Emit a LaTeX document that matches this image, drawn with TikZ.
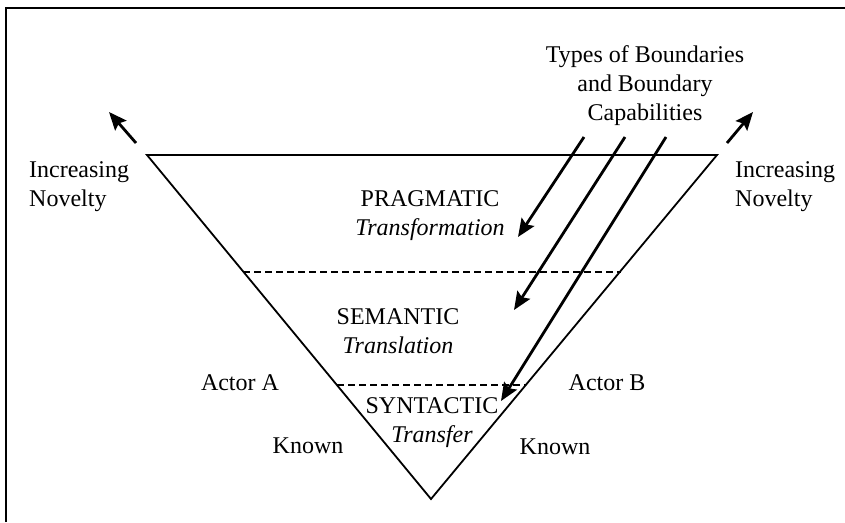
\documentclass[tikz,border=0pt]{standalone}
\usepackage{fontspec}
\setmainfont{Liberation Serif}
\usetikzlibrary{arrows.meta}
\begin{document}
\begin{tikzpicture}[x=1pt,y=-1pt,
  txt/.style={font=\fontsize{24}{29}\selectfont, inner sep=0pt, align=center},
  txtl/.style={font=\fontsize{24}{29}\selectfont, inner sep=0pt, align=left, anchor=west},
  bigarrow/.style={line width=2.8pt, -{Stealth[length=18pt,width=15pt,inset=3pt]}},
  edge/.style={line width=1.8pt},
  level/.style={line width=2pt, dash pattern=on 7pt off 4pt},
  frame/.style={line width=2.2pt}]
\useasboundingbox (0,0) rectangle (845,522);
\draw[frame] (6,522) -- (6,8) -- (845,8);
% triangle
\coordinate (tl) at (147,155);
\coordinate (tr) at (717,155);
\coordinate (bt) at (431,499);
\draw[edge, line join=miter] (tl) -- (tr) -- (bt) -- cycle;
% levels
\coordinate (d1l) at (243,272);
\coordinate (d1r) at (621,272);
\coordinate (d2l) at (337,385);
\coordinate (d2r) at (526,385);
\draw[level] (d1l) -- (d1r);
\draw[level] (d2l) -- (d2r);
% texts
\node[txt] (types) at (645,86) {Types of Boundaries\\and Boundary\\Capabilities};
\node[txtl] (novl) at (29,187) {Increasing\\Novelty};
\node[txtl] (novr) at (735,187) {Increasing\\Novelty};
\node[txt] (prag) at (430,216) {PRAGMATIC\\\textit{Transformation}};
\node[txt] (sem) at (398,331) {SEMANTIC\\\textit{Translation}};
\node[txt] (syn) at (432,423) {SYNTACTIC\\\textit{Transfer}};
\node[txt] (acta) at (240,383) {Actor A};
\node[txt] (actb) at (607,383) {Actor B};
\node[txt] (knl) at (308,446) {Known};
\node[txt] (knr) at (555,447) {Known};
% arrows
\coordinate (a1s) at (584,137);
\coordinate (a1e) at (518,237);
\coordinate (a2s) at (625,137);
\coordinate (a2e) at (514,310);
\coordinate (a3s) at (666,137);
\coordinate (a3e) at (501,401);
\draw[bigarrow] (a1s) -- (a1e);
\draw[bigarrow] (a2s) -- (a2e);
\draw[bigarrow] (a3s) -- (a3e);
\coordinate (nls) at (136,143);
\coordinate (nle) at (109,112);
\coordinate (nrs) at (727,143);
\coordinate (nre) at (753,112);
\draw[bigarrow] (nls) -- (nle);
\draw[bigarrow] (nrs) -- (nre);
\end{tikzpicture}
\end{document}
